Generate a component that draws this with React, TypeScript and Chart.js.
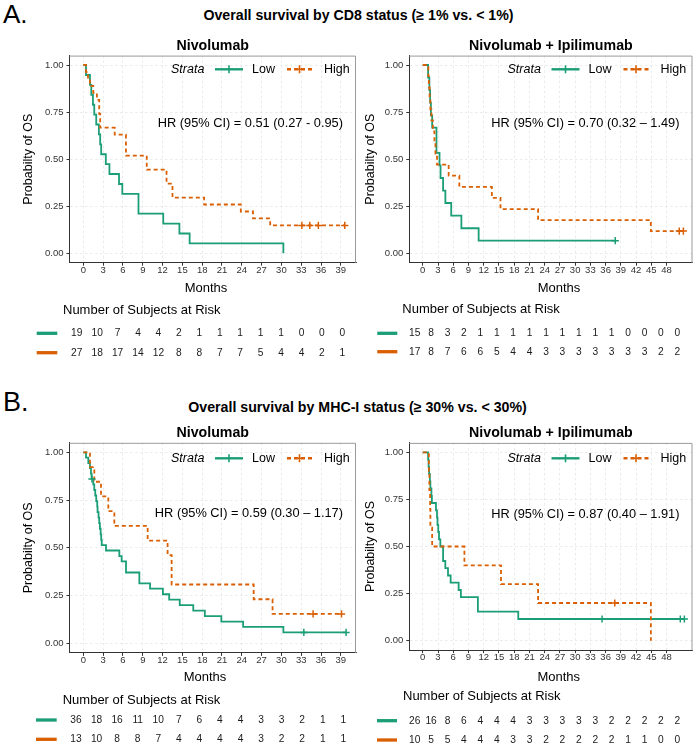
import React, { useEffect, useRef } from 'react';
import { Chart, registerables } from 'chart.js';

Chart.register(...registerables);

const GREEN = '#1b9e77';
const ORANGE = '#d95f02';
const FONT = '"Liberation Sans", Arial, Helvetica, sans-serif';

// ---------- tick labels ----------
const nivoTicks = [0, 3, 6, 9, 12, 15, 18, 21, 24, 27, 30, 33, 36, 39];
const comboTicks = [0, 3, 6, 9, 12, 15, 18, 21, 24, 27, 30, 33, 36, 39, 42, 45, 48];
const yTicks = [0, 0.25, 0.5, 0.75, 1];
const yTickLabels = ['0.00', '0.25', '0.50', '0.75', '1.00'];
const yTitle = 'Probabilty of OS';

// ---------- A. CD8, Nivolumab ----------
const cd8NivoLowTimes = [0.4, 1.0, 1.2, 1.45, 1.65, 1.95, 2.35, 2.55, 2.7, 3.4, 3.95, 5.4, 5.9, 8.35, 12.1, 14.55, 16.1, 30.3];
const cd8NivoLowSurv = [0.947, 0.895, 0.842, 0.789, 0.737, 0.684, 0.632, 0.579, 0.526, 0.474, 0.421, 0.368, 0.316, 0.211, 0.158, 0.105, 0.053, 0];
const cd8NivoLowCensor: number[] = [];
const cd8NivoHighTimes = [0.4, 0.7, 1.0, 1.5, 2.05, 2.4, 2.55, 4.75, 6.45, 9.6, 12.6, 13.5, 18.3, 23.85, 25.7, 28.3];
const cd8NivoHighSurv = [0.963, 0.926, 0.889, 0.852, 0.815, 0.741, 0.667, 0.630, 0.519, 0.444, 0.370, 0.296, 0.259, 0.222, 0.185, 0.148];
const cd8NivoHighCensor = [33.1, 34.3, 35.6, 39.6];
const cd8NivoRiskLow = [19, 10, 7, 4, 4, 2, 1, 1, 1, 1, 1, 0, 0, 0];
const cd8NivoRiskHigh = [27, 18, 17, 14, 12, 8, 8, 7, 7, 5, 4, 4, 2, 1];

// ---------- A. CD8, Nivolumab + Ipilimumab ----------
const cd8ComboLowTimes = [1.05, 1.3, 1.45, 1.6, 1.85, 2.7, 3.3, 3.5, 4.0, 4.45, 5.6, 7.6, 11.0];
const cd8ComboLowSurv = [0.933, 0.867, 0.8, 0.733, 0.667, 0.533, 0.467, 0.4, 0.333, 0.267, 0.2, 0.133, 0.067];
const cd8ComboLowCensor = [37.9];
const cd8ComboHighTimes = [1.1, 1.2, 1.35, 1.5, 1.7, 2.0, 2.3, 2.5, 2.8, 5.1, 7.2, 13.6, 15.3, 22.7, 44.9];
const cd8ComboHighSurv = [0.941, 0.882, 0.824, 0.765, 0.706, 0.647, 0.588, 0.529, 0.471, 0.412, 0.353, 0.294, 0.235, 0.176, 0.118];
const cd8ComboHighCensor = [50.5, 51.3];
const cd8ComboRiskLow = [15, 8, 3, 2, 1, 1, 1, 1, 1, 1, 1, 1, 1, 0, 0, 0, 0];
const cd8ComboRiskHigh = [17, 8, 7, 6, 6, 5, 4, 4, 3, 3, 3, 3, 3, 3, 3, 2, 2];

// ---------- B. MHC-I, Nivolumab ----------
const mhcNivoLowTimes = [0.4, 0.75, 1.0, 1.15, 1.25, 1.5, 1.65, 1.8, 1.95, 2.1, 2.15, 2.3, 2.4, 2.5, 2.62, 2.7, 2.78, 3.43, 5.45, 5.8, 6.46, 8.48, 10.1, 12.05, 13.0, 14.6, 16.65, 18.4, 20.9, 24.2, 30.3];
const mhcNivoLowSurv = [0.972, 0.944, 0.917, 0.889, 0.861, 0.832, 0.803, 0.774, 0.745, 0.716, 0.687, 0.658, 0.629, 0.600, 0.571, 0.542, 0.514, 0.486, 0.457, 0.429, 0.371, 0.314, 0.286, 0.257, 0.229, 0.200, 0.171, 0.143, 0.114, 0.086, 0.057];
const mhcNivoLowCensor = [1.3, 33.4, 39.8];
const mhcNivoHighTimes = [1.0, 1.66, 2.67, 3.78, 4.69, 9.74, 12.76, 13.37, 25.8, 28.66];
const mhcNivoHighSurv = [0.923, 0.846, 0.769, 0.692, 0.615, 0.538, 0.462, 0.308, 0.231, 0.154];
const mhcNivoHighCensor = [34.8, 39.1];
const mhcNivoRiskLow = [36, 18, 16, 11, 10, 7, 6, 4, 4, 3, 3, 2, 1, 1];
const mhcNivoRiskHigh = [13, 10, 8, 8, 7, 4, 4, 4, 4, 3, 2, 2, 1, 1];

// ---------- B. MHC-I, Nivolumab + Ipilimumab ----------
const mhcComboLowTimes = [1.05, 1.15, 1.25, 1.4, 1.5, 1.7, 1.8, 2.6, 2.8, 2.9, 3.05, 3.2, 3.46, 4.0, 4.44, 4.97, 5.49, 7.06, 7.5, 10.85, 18.8];
const mhcComboLowSurv = [0.962, 0.923, 0.885, 0.846, 0.808, 0.769, 0.731, 0.692, 0.654, 0.615, 0.577, 0.538, 0.5, 0.423, 0.385, 0.346, 0.308, 0.269, 0.231, 0.154, 0.115];
const mhcComboLowCensor = [35.3, 50.7, 51.5];
const mhcComboHighTimes = [1.2, 1.3, 1.45, 1.5, 1.85, 8.2, 15.4, 22.7, 44.9];
const mhcComboHighSurv = [0.9, 0.8, 0.7, 0.6, 0.5, 0.4, 0.3, 0.2, 0];
const mhcComboHighCensor = [37.8];
const mhcComboRiskLow = [26, 16, 8, 6, 4, 4, 4, 3, 3, 3, 3, 3, 2, 2, 2, 2, 2];
const mhcComboRiskHigh = [10, 5, 5, 4, 4, 4, 3, 3, 2, 2, 2, 2, 2, 1, 1, 0, 0];

// ---------- helpers ----------
type Curve = { times: number[]; surv: number[]; censor: number[] };
type Box = { left: number; top: number; width: number; height: number };
type Area = { left: number; right: number; top: number; bottom: number };
type PanelSpec = {
  id: string;
  title: string;
  hr: string;
  ticks: number[];
  xMin: number;
  xMax: number;
  low: Curve;
  high: Curve;
  riskLow: number[];
  riskHigh: number[];
  canvas: Box;
  area: Area;
  subtitleY: number;
  legendY: number;
  hrY: number;
  yTitleX: number;
  monthsX: number;
  monthsY: number;
  headerX: number;
  headerY: number;
  row1Y: number;
  row2Y: number;
  segX: [number, number];
  tableLeft: number;
  tableWidth: number;
};

function survAt(c: Curve, t: number) {
  let v = 1;
  for (let i = 0; i < c.times.length; i++) if (c.times[i] <= t) v = c.surv[i];
  return v;
}
function lineData(c: Curve) {
  const pts = [{ x: 0, y: 1 }];
  c.times.forEach((t, i) => pts.push({ x: t, y: c.surv[i] }));
  const lastT = c.times[c.times.length - 1];
  const lastS = c.surv[c.surv.length - 1];
  const end = c.censor.length ? Math.max(...c.censor) : lastT;
  if (end > lastT) pts.push({ x: end, y: lastS });
  return pts;
}
function censorData(c: Curve) {
  return c.censor.map((t) => ({ x: t, y: survAt(c, t) }));
}

const X_H = 20;
const TICK_FONT = { family: FONT, size: 9.5, lineHeight: 1 };

function makePlugin(spec: PanelSpec) {
  return {
    id: 'kmDecor_' + spec.id,
    beforeDatasetsDraw(chart: any) {
      const { ctx, chartArea: a } = chart;
      ctx.save();
      ctx.strokeStyle = '#9a9a9a';
      ctx.lineWidth = 1;
      ctx.beginPath();
      ctx.moveTo(a.left, a.top + 0.5);
      ctx.lineTo(a.right - 0.5, a.top + 0.5);
      ctx.lineTo(a.right - 0.5, a.bottom);
      ctx.stroke();
      ctx.restore();
    },
    afterDraw(chart: any) {
      const { ctx, chartArea: a } = chart;
      const cv = spec.canvas;
      const X = (px: number) => px - cv.left;
      const Y = (py: number) => py - cv.top;
      const text = (s: string, x: number, y: number, font: string, align: CanvasTextAlign = 'center', color = '#000') => {
        ctx.font = font;
        ctx.fillStyle = color;
        ctx.textAlign = align;
        ctx.textBaseline = 'middle';
        ctx.fillText(s, x, y);
      };
      ctx.save();
      // subtitle
      text(spec.title, (a.left + a.right) / 2, Y(spec.subtitleY), `bold 14.2px ${FONT}`);
      // legend
      const R = a.right;
      const ly = Y(spec.legendY);
      text('Strata', R - 185, ly, `italic 12.5px ${FONT}`, 'left');
      ctx.lineWidth = 2.4;
      ctx.strokeStyle = GREEN;
      ctx.beginPath();
      ctx.moveTo(R - 141, ly);
      ctx.lineTo(R - 113, ly);
      ctx.stroke();
      ctx.lineWidth = 1.6;
      ctx.beginPath();
      ctx.moveTo(R - 127, ly - 4);
      ctx.lineTo(R - 127, ly + 4);
      ctx.stroke();
      text('Low', R - 104, ly, `12.5px ${FONT}`, 'left');
      ctx.strokeStyle = ORANGE;
      ctx.lineWidth = 2.4;
      ctx.setLineDash([4, 3]);
      ctx.beginPath();
      ctx.moveTo(R - 69, ly);
      ctx.lineTo(R - 44, ly);
      ctx.stroke();
      ctx.setLineDash([]);
      ctx.lineWidth = 1.6;
      ctx.beginPath();
      ctx.moveTo(R - 56.5, ly - 4);
      ctx.lineTo(R - 56.5, ly + 4);
      ctx.moveTo(R - 60.5, ly);
      ctx.lineTo(R - 52.5, ly);
      ctx.stroke();
      text('High', R - 32, ly, `12.5px ${FONT}`, 'left');
      // HR
      text(spec.hr, R - 13, Y(spec.hrY), `12.8px ${FONT}`, 'right');
      // y title
      ctx.save();
      ctx.translate(X(spec.yTitleX), (a.top + a.bottom) / 2);
      ctx.rotate(-Math.PI / 2);
      text(yTitle, 0, 0, `12.5px ${FONT}`);
      ctx.restore();
      // x title
      text('Months', X(spec.monthsX), Y(spec.monthsY), `13px ${FONT}`);
      // risk table
      text('Number of Subjects at Risk', X(spec.headerX), Y(spec.headerY), `13px ${FONT}`, 'left');
      ctx.lineWidth = 3.3;
      ctx.strokeStyle = GREEN;
      ctx.beginPath();
      ctx.moveTo(X(spec.segX[0]), Y(spec.row1Y));
      ctx.lineTo(X(spec.segX[1]), Y(spec.row1Y));
      ctx.stroke();
      ctx.strokeStyle = ORANGE;
      ctx.beginPath();
      ctx.moveTo(X(spec.segX[0]), Y(spec.row2Y));
      ctx.lineTo(X(spec.segX[1]), Y(spec.row2Y));
      ctx.stroke();
      const xs = chart.scales.x;
      spec.ticks.forEach((t, i) => {
        const frac = (xs.getPixelForValue(t) - a.left) / (a.right - a.left);
        const px = X(spec.tableLeft) + frac * spec.tableWidth;
        text(String(spec.riskLow[i]), px, Y(spec.row1Y), `10.2px ${FONT}`, 'center', '#1a1a1a');
        text(String(spec.riskHigh[i]), px, Y(spec.row2Y), `10.2px ${FONT}`, 'center', '#1a1a1a');
      });
      ctx.restore();
    },
  };
}

function makeConfig(spec: PanelSpec): any {
  const cv = spec.canvas;
  const ar = spec.area;
  const gridCommon = {
    color: '#e6e6e6',
    lineWidth: 0.8,
    tickLength: 3,
    tickColor: '#333',
    tickWidth: 1,
  };
  return {
    type: 'line',
    data: {
      datasets: [
        { type: 'scatter', data: censorData(spec.high), borderColor: ORANGE, backgroundColor: ORANGE, pointStyle: 'cross', pointRadius: 3.6, borderWidth: 1.5 },
        { type: 'scatter', data: censorData(spec.low), borderColor: GREEN, backgroundColor: GREEN, pointStyle: 'cross', pointRadius: 3.6, borderWidth: 1.5 },
        { type: 'line', data: lineData(spec.high), borderColor: ORANGE, borderWidth: 1.8, borderDash: [4, 3], stepped: 'before', pointRadius: 0, fill: false },
        { type: 'line', data: lineData(spec.low), borderColor: GREEN, borderWidth: 1.8, stepped: 'before', pointRadius: 0, fill: false },
      ],
    },
    options: {
      responsive: false,
      animation: false,
      events: [],
      layout: {
        padding: {
          left: 0,
          top: ar.top - cv.top,
          right: cv.left + cv.width - ar.right,
          bottom: cv.top + cv.height - ar.bottom - X_H,
        },
      },
      scales: {
        x: {
          type: 'linear',
          min: spec.xMin,
          max: spec.xMax,
          afterBuildTicks: (axis: any) => {
            axis.ticks = spec.ticks.map((v) => ({ value: v }));
          },
          afterFit: (axis: any) => {
            axis.height = X_H;
          },
          ticks: { autoSkip: false, maxRotation: 0, font: TICK_FONT, color: '#333', padding: 0, callback: (v: number) => String(v) },
          grid: gridCommon,
          border: { display: true, color: '#333', width: 1, dash: [2.5, 2.5] },
        },
        y: {
          type: 'linear',
          min: -0.05,
          max: 1.05,
          afterBuildTicks: (axis: any) => {
            axis.ticks = yTicks.map((v) => ({ value: v }));
          },
          afterFit: (axis: any) => {
            axis.width = ar.left - cv.left;
          },
          ticks: { font: TICK_FONT, color: '#333', padding: 3, callback: (v: number) => yTickLabels[yTicks.indexOf(v)] ?? '' },
          grid: gridCommon,
          border: { display: true, color: '#333', width: 1, dash: [2.5, 2.5] },
        },
      },
      plugins: { legend: { display: false }, tooltip: { enabled: false }, title: { display: false } },
    },
    plugins: [makePlugin(spec)],
  };
}

const panels: PanelSpec[] = [
  {
    id: 'a1', title: 'Nivolumab', hr: 'HR (95% CI) = 0.51 (0.27 - 0.95)', ticks: nivoTicks, xMin: -2.1, xMax: 41.3,
    low: { times: cd8NivoLowTimes, surv: cd8NivoLowSurv, censor: cd8NivoLowCensor },
    high: { times: cd8NivoHighTimes, surv: cd8NivoHighSurv, censor: cd8NivoHighCensor },
    riskLow: cd8NivoRiskLow, riskHigh: cd8NivoRiskHigh,
    canvas: { left: 0, top: 30, width: 362, height: 345 },
    area: { left: 69.5, right: 356, top: 55.6, bottom: 262.7 },
    subtitleY: 45.7, legendY: 69.3, hrY: 123.3, yTitleX: 29,
    monthsX: 206, monthsY: 288.3, headerX: 63, headerY: 310, row1Y: 333.3, row2Y: 352.7,
    segX: [36.7, 57.3], tableLeft: 62.4, tableWidth: 295.6,
  },
  {
    id: 'a2', title: 'Nivolumab + Ipilimumab', hr: 'HR (95% CI) = 0.70 (0.32 \u2013 1.49)', ticks: comboTicks, xMin: -2.65, xMax: 53.1,
    low: { times: cd8ComboLowTimes, surv: cd8ComboLowSurv, censor: cd8ComboLowCensor },
    high: { times: cd8ComboHighTimes, surv: cd8ComboHighSurv, censor: cd8ComboHighCensor },
    riskLow: cd8ComboRiskLow, riskHigh: cd8ComboRiskHigh,
    canvas: { left: 362, top: 30, width: 336, height: 345 },
    area: { left: 409.3, right: 695, top: 55.6, bottom: 262.7 },
    subtitleY: 45.7, legendY: 69.3, hrY: 123.3, yTitleX: 371,
    monthsX: 559, monthsY: 288.3, headerX: 402.3, headerY: 309.3, row1Y: 333.3, row2Y: 351.7,
    segX: [377.3, 397.3], tableLeft: 400.2, tableWidth: 305,
  },
  {
    id: 'b1', title: 'Nivolumab', hr: 'HR (95% CI) = 0.59 (0.30 \u2013 1.17)', ticks: nivoTicks, xMin: -2.1, xMax: 41.3,
    low: { times: mhcNivoLowTimes, surv: mhcNivoLowSurv, censor: mhcNivoLowCensor },
    high: { times: mhcNivoHighTimes, surv: mhcNivoHighSurv, censor: mhcNivoHighCensor },
    riskLow: mhcNivoRiskLow, riskHigh: mhcNivoRiskHigh,
    canvas: { left: 0, top: 420, width: 362, height: 330 },
    area: { left: 69.5, right: 356, top: 442.8, bottom: 652.9 },
    subtitleY: 433.3, legendY: 458.3, hrY: 513.3, yTitleX: 29,
    monthsX: 205, monthsY: 677.3, headerX: 62.7, headerY: 700, row1Y: 720, row2Y: 739.3,
    segX: [36, 56.7], tableLeft: 61.6, tableWidth: 297.5,
  },
  {
    id: 'b2', title: 'Nivolumab + Ipilimumab', hr: 'HR (95% CI) = 0.87 (0.40 \u2013 1.91)', ticks: comboTicks, xMin: -2.65, xMax: 53.1,
    low: { times: mhcComboLowTimes, surv: mhcComboLowSurv, censor: mhcComboLowCensor },
    high: { times: mhcComboHighTimes, surv: mhcComboHighSurv, censor: mhcComboHighCensor },
    riskLow: mhcComboRiskLow, riskHigh: mhcComboRiskHigh,
    canvas: { left: 362, top: 420, width: 336, height: 330 },
    area: { left: 409.3, right: 695, top: 442.9, bottom: 650.1 },
    subtitleY: 433.3, legendY: 458.3, hrY: 514, yTitleX: 370.3,
    monthsX: 558.7, monthsY: 677.3, headerX: 403, headerY: 696.7, row1Y: 720.7, row2Y: 740,
    segX: [377, 397], tableLeft: 400.2, tableWidth: 305,
  },
];

function KMPanel({ spec }: { spec: PanelSpec }) {
  const ref = useRef<HTMLCanvasElement>(null);
  useEffect(() => {
    if (!ref.current) return;
    const chart = new Chart(ref.current, makeConfig(spec));
    return () => chart.destroy();
  }, [spec]);
  const c = spec.canvas;
  return (
    <canvas
      ref={ref}
      width={c.width}
      height={c.height}
      style={{ position: 'absolute', left: c.left, top: c.top, width: c.width, height: c.height }}
    />
  );
}

export default function App() {
  const titleStyle: React.CSSProperties = {
    position: 'absolute',
    transform: 'translate(-50%, -50%)',
    fontSize: 14.2,
    fontWeight: 'bold',
    lineHeight: 1,
    whiteSpace: 'nowrap',
    color: '#000',
  };
  return (
    <div style={{ position: 'absolute', left: 0, top: 0, width: 698, height: 750, background: '#fff', fontFamily: FONT, overflow: 'hidden' }}>
      <div style={{ position: 'absolute', left: 3, top: 1, fontSize: 26, lineHeight: 1 }}>A.</div>
      <div style={{ ...titleStyle, left: 358.5, top: 15 }}>{'Overall survival by CD8 status (\u2265 1% vs. < 1%)'}</div>
      <div style={{ position: 'absolute', left: 3, top: 388.5, fontSize: 27, lineHeight: 1 }}>B.</div>
      <div style={{ ...titleStyle, left: 357.5, top: 406.7 }}>{'Overall survival by MHC-I status (\u2265 30% vs. < 30%)'}</div>
      {panels.map((p) => (
        <KMPanel key={p.id} spec={p} />
      ))}
    </div>
  );
}
